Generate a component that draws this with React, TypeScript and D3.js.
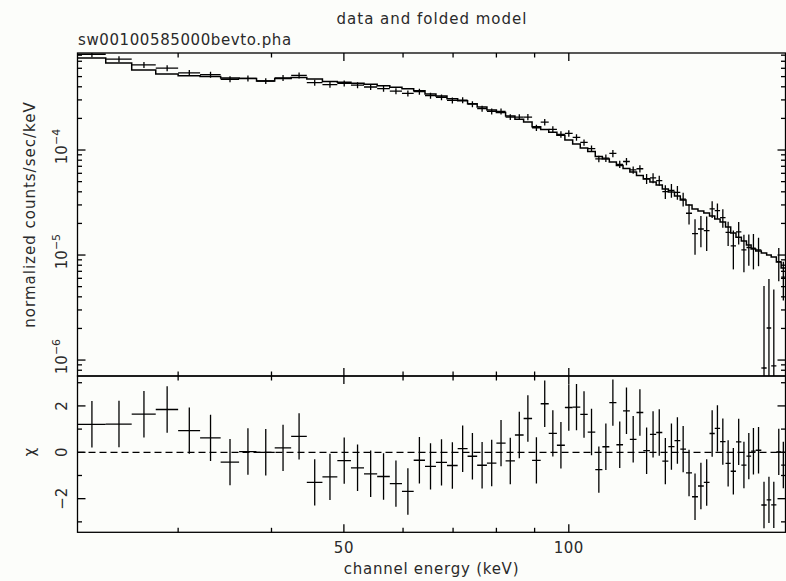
import React from 'react';
import * as d3 from 'd3';

// Energy bin edges (keV) (72 channels)
const binEdges = [
  22, 24, 26, 28, 30, 32.1, 34.2, 36.2, 38.2, 40.4,
  42.5, 44.6, 46.8, 49, 51.1, 53.2, 55.4, 57.6, 59.8, 62,
  64.2, 66.4, 68.7, 71, 73.2, 75.4, 77.7, 80, 82.3, 84.7,
  87, 89.3, 91.7, 94, 96.4, 98.8, 101.2, 103.6, 106, 108.5,
  110.9, 113.3, 115.8, 118.2, 120.7, 123.2, 125.8, 128.4, 130.9, 133.4,
  135.9, 138.5, 141, 143.5, 146.2, 148.9, 151.6, 154.3, 156.8, 159.4,
  162.1, 164.7, 167.4, 170.2, 172.9, 175.4, 177.9, 181, 184, 186.6,
  189.6, 192.4, 195,
];

// folded model (normalized counts/sec/keV)
const modelRate = [
  7.52e-4, 6.74e-4, 5.78e-4, 5.29e-4, 5.10e-4, 5.01e-4, 4.85e-4, 4.80e-4, 4.54e-4, 4.80e-4,
  4.90e-4, 4.75e-4, 4.49e-4, 4.41e-4, 4.32e-4, 4.22e-4, 4.10e-4, 3.96e-4, 3.84e-4, 3.67e-4,
  3.42e-4, 3.27e-4, 3.08e-4, 2.95e-4, 2.76e-4, 2.57e-4, 2.40e-4, 2.27e-4, 2.11e-4, 1.96e-4,
  1.85e-4, 1.67e-4, 1.57e-4, 1.48e-4, 1.38e-4, 1.245e-4, 1.14e-4, 1.045e-4, 9.67e-5, 8.67e-5,
  8.21e-5, 7.69e-5, 7.12e-5, 6.66e-5, 6.17e-5, 5.72e-5, 5.29e-5, 4.96e-5, 4.64e-5, 4.25e-5,
  3.98e-5, 3.65e-5, 3.34e-5, 2.99e-5, 2.74e-5, 2.62e-5, 2.51e-5, 2.35e-5, 2.20e-5, 2.06e-5,
  1.85e-5, 1.62e-5, 1.48e-5, 1.36e-5, 1.245e-5, 1.14e-5, 1.09e-5, 1.045e-5, 1.0e-5, 9.57e-6,
  8.58e-6, 7.52e-6,
];

// data (normalized counts/sec/keV)
const dataRate = [
  8.16e-4, 7.32e-4, 6.47e-4, 6.01e-4, 5.43e-4, 5.22e-4, 4.72e-4, 4.81e-4, 4.54e-4, 4.86e-4,
  5.13e-4, 4.38e-4, 4.20e-4, 4.31e-4, 4.14e-4, 3.98e-4, 3.84e-4, 3.64e-4, 3.46e-4, 3.59e-4,
  3.29e-4, 3.18e-4, 2.97e-4, 2.98e-4, 2.73e-4, 2.48e-4, 2.33e-4, 2.33e-4, 2.06e-4, 2.06e-4,
  2.06e-4, 1.63e-4, 1.84e-4, 1.57e-4, 1.41e-4, 1.44e-4, 1.32e-4, 1.18e-4, 1.03e-4, 8.24e-5,
  8.37e-5, 9.28e-5, 7.31e-5, 7.77e-5, 6.46e-5, 6.63e-5, 5.33e-5, 5.42e-5, 5.12e-5, 4.02e-5,
  4.13e-5, 3.95e-5, 3.41e-5, 2.50e-5, 1.60e-5, 1.77e-5, 1.71e-5, 2.75e-5, 2.65e-5, 2.27e-5,
  1.645e-5, 1.22e-5, 1.66e-5, 1.12e-5, 1.18e-5, 1.16e-5, 1.12e-5, 8.4e-7, 2.02e-6, 8.8e-7,
  8.64e-6, 6.16e-6,
];

// 1-sigma errors on the data
const dataErr = [
  5.3e-5, 4.76e-5, 4.2e-5, 3.9e-5, 3.53e-5, 3.39e-5, 3.07e-5, 3.13e-5, 2.95e-5, 3.16e-5,
  3.34e-5, 2.85e-5, 2.73e-5, 2.80e-5, 2.69e-5, 2.59e-5, 2.49e-5, 2.37e-5, 2.25e-5, 2.33e-5,
  2.14e-5, 2.06e-5, 1.93e-5, 1.94e-5, 1.77e-5, 1.61e-5, 1.51e-5, 1.52e-5, 1.34e-5, 1.34e-5,
  1.44e-5, 1.14e-5, 1.29e-5, 1.10e-5, 9.9e-6, 1.01e-5, 9.25e-6, 8.27e-6, 7.22e-6, 5.77e-6,
  6.7e-6, 7.42e-6, 5.85e-6, 6.2e-6, 5.17e-6, 5.3e-6, 5.86e-6, 5.96e-6, 5.63e-6, 6.03e-6,
  6.2e-6, 5.92e-6, 5.12e-6, 5.5e-6, 5.95e-6, 5.85e-6, 6.15e-6, 4.94e-6, 4.37e-6, 4.54e-6,
  4.28e-6, 4.9e-6, 3.99e-6, 4.36e-6, 3.89e-6, 4.3e-6, 3.37e-6, 4.23e-6, 3.89e-6, 3.83e-6,
  3.02e-6, 2.47e-6,
];

const xMajorTicks = [50, 100];
const xTickLabels = ['50', '100'];
const xMinorTicks = [30, 40, 60, 70, 80, 90];
const yDecades = [1e-4, 1e-5, 1e-6];
const yDecadeExponents = ['\u22124', '\u22125', '\u22126'];
const residMajorTicks = [-2, 0, 2];
const residTickLabels = ['\u22122', '0', '2'];
const residMinorTicks = [-3, -1, 1, 3];

const titleText = 'data and folded model';
const fileText = 'sw00100585000bevto.pha';
const xLabel = 'channel energy (keV)';
const yLabel = 'normalized counts/sec/keV';
const residLabel = '\u03c7';

const W = 786;
const H = 581;
const FONT = '"DejaVu Sans", Verdana, sans-serif';
const TXT = '#2a2a2a';

export default function App() {
  const left = 77.5, right = 785.5, top = 53, mid = 376, bottom = 532.3;
  const x = d3.scaleLog().domain([22, 195]).range([left, right]);
  const y = d3.scaleLog().domain([7.05e-7, 8.39e-4]).range([mid, top]);
  const r = d3.scaleLinear().domain([-3.45, 3.29]).range([bottom, mid]);

  const bins = modelRate.map((m, i) => {
    const lo = binEdges[i];
    const hi = binEdges[i + 1];
    const c = (lo + hi) / 2;
    const d = dataRate[i];
    const e = dataErr[i];
    return { lo, hi, c, m, d, e, chi: (d - m) / e };
  });

  const modelPts: [number, number][] = [];
  bins.forEach((b) => {
    modelPts.push([b.lo, b.m]);
    modelPts.push([b.hi, b.m]);
  });
  const modelLine = d3
    .line<[number, number]>()
    .x((p) => x(p[0]))
    .y((p) => y(p[1]))(modelPts) as string;

  // minor y ticks for the log axis
  const yAllTicks = y.ticks();
  const isDecade = (v: number) => Math.abs(Math.log10(v) - Math.round(Math.log10(v))) < 1e-6;
  const yMinor = yAllTicks.filter((v) => !isDecade(v));

  const sw = 1.3;
  const major = 8;
  const minor = 4.5;

  return (
    <svg
      width={W}
      height={H}
      style={{ position: 'absolute', left: 0, top: 0, background: '#fcfdfa' }}
      fontFamily={FONT}
    >
      <rect x={0} y={0} width={W} height={H} fill="#fcfdfa" />
      <defs>
        <clipPath id="clipTop">
          <rect x={left} y={top} width={right - left} height={mid - top} />
        </clipPath>
        <clipPath id="clipBot">
          <rect x={left} y={mid} width={right - left} height={bottom - mid} />
        </clipPath>
      </defs>

      {/* titles */}
      <text x={432} y={24} fontSize={15} fill={TXT} textAnchor="middle" style={{ letterSpacing: '1px' }}>
        {titleText}
      </text>
      <text x={78} y={45} fontSize={15} fill={TXT} style={{ letterSpacing: '0.6px' }}>
        {fileText}
      </text>

      {/* upper panel */}
      <g clipPath="url(#clipTop)">
        <path d={modelLine} fill="none" stroke="#000" strokeWidth={1.5} />
        {bins.map((b, i) => {
          const yc = y(b.d);
          const yHi = y(b.d + b.e);
          const yLo = b.d - b.e > 0 ? y(b.d - b.e) : mid + 5;
          return (
            <g key={i} stroke="#000" strokeWidth={sw}>
              <line x1={x(b.lo)} x2={x(b.hi)} y1={yc} y2={yc} />
              <line x1={x(b.c)} x2={x(b.c)} y1={yHi} y2={yLo} />
            </g>
          );
        })}
      </g>

      {/* lower panel */}
      <g clipPath="url(#clipBot)">
        <line x1={left} x2={right} y1={r(0)} y2={r(0)} stroke="#000" strokeWidth={sw} strokeDasharray="7 4" />
        {bins.map((b, i) => {
          const yc = r(b.chi);
          return (
            <g key={i} stroke="#000" strokeWidth={sw}>
              <line x1={x(b.lo)} x2={x(b.hi)} y1={yc} y2={yc} />
              <line x1={x(b.c)} x2={x(b.c)} y1={r(b.chi + 1)} y2={r(b.chi - 1)} />
            </g>
          );
        })}
      </g>

      {/* frames */}
      <rect x={left} y={top} width={right - left} height={mid - top} fill="none" stroke="#000" strokeWidth={sw} />
      <rect x={left} y={mid} width={right - left} height={bottom - mid} fill="none" stroke="#000" strokeWidth={sw} />

      {/* x ticks on all horizontal axes */}
      {[
        { yy: top, dir: 1 },
        { yy: mid, dir: -1 },
        { yy: mid, dir: 1 },
        { yy: bottom, dir: -1 },
      ].map((ax, k) => (
        <g key={k} stroke="#000" strokeWidth={sw}>
          {xMajorTicks.map((t) => (
            <line key={'M' + t} x1={x(t)} x2={x(t)} y1={ax.yy} y2={ax.yy + ax.dir * major} />
          ))}
          {xMinorTicks.map((t) => (
            <line key={'m' + t} x1={x(t)} x2={x(t)} y1={ax.yy} y2={ax.yy + ax.dir * minor} />
          ))}
        </g>
      ))}

      {/* y ticks upper panel */}
      {[
        { xx: left, dir: 1 },
        { xx: right, dir: -1 },
      ].map((ax, k) => (
        <g key={'yt' + k} stroke="#000" strokeWidth={sw}>
          {yDecades.map((t) => (
            <line key={'M' + t} x1={ax.xx} x2={ax.xx + ax.dir * major} y1={y(t)} y2={y(t)} />
          ))}
          {yMinor.map((t) => (
            <line key={'m' + t} x1={ax.xx} x2={ax.xx + ax.dir * minor} y1={y(t)} y2={y(t)} />
          ))}
        </g>
      ))}

      {/* y ticks lower panel */}
      {[
        { xx: left, dir: 1 },
        { xx: right, dir: -1 },
      ].map((ax, k) => (
        <g key={'rt' + k} stroke="#000" strokeWidth={sw}>
          {residMajorTicks.map((t) => (
            <line key={'M' + t} x1={ax.xx} x2={ax.xx + ax.dir * major} y1={r(t)} y2={r(t)} />
          ))}
          {residMinorTicks.map((t) => (
            <line key={'m' + t} x1={ax.xx} x2={ax.xx + ax.dir * minor} y1={r(t)} y2={r(t)} />
          ))}
        </g>
      ))}

      {/* x tick labels */}
      {xMajorTicks.map((t, i) => (
        <text key={t} x={x(t)} y={553} fontSize={15} fill={TXT} textAnchor="middle" style={{ letterSpacing: '0.5px' }}>
          {xTickLabels[i]}
        </text>
      ))}
      <text x={431.5} y={574} fontSize={15} fill={TXT} textAnchor="middle" style={{ letterSpacing: '0.75px' }}>
        {xLabel}
      </text>

      {/* y tick labels upper (rotated) */}
      {yDecades.map((t, i) => (
        <text
          key={t}
          transform={`translate(67,${y(t) - 3.5}) rotate(-90)`}
          fontSize={15}
          fill={TXT}
          textAnchor="middle"
        >
          <tspan>10</tspan>
          <tspan fontSize={11} dy={-7}>
            {yDecadeExponents[i]}
          </tspan>
        </text>
      ))}

      {/* residual tick labels */}
      {residMajorTicks.map((t, i) => (
        <text
          key={t}
          transform={`translate(67,${r(t)}) rotate(-90)`}
          fontSize={15}
          fill={TXT}
          textAnchor="middle"
        >
          {residTickLabels[i]}
        </text>
      ))}

      {/* axis labels */}
      <text
        transform={`translate(35,${(top + mid) / 2}) rotate(-90)`}
        fontSize={15}
        fill={TXT}
        textAnchor="middle"
        style={{ letterSpacing: '1px' }}
      >
        {yLabel}
      </text>
      <text
        transform={`translate(35,${r(0)}) rotate(-90)`}
        fontSize={15}
        fill={TXT}
        textAnchor="middle"
      >
        {residLabel}
      </text>
    </svg>
  );
}
